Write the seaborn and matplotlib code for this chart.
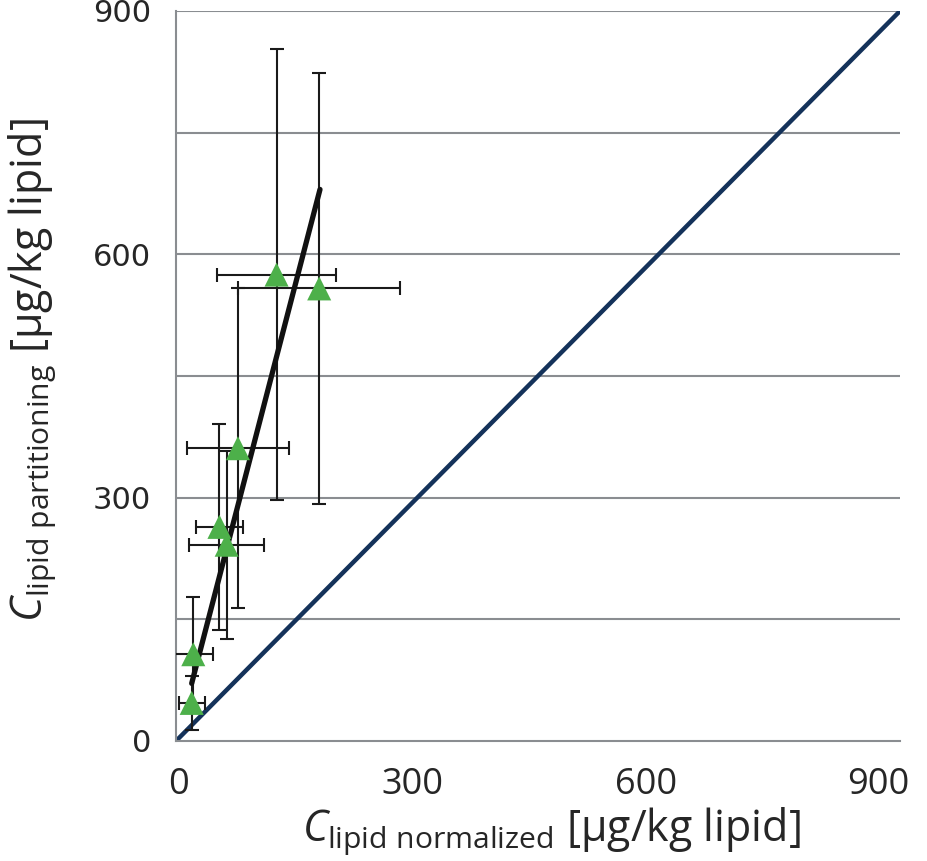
import numpy as np
import pandas as pd
import matplotlib
matplotlib.use("Agg")
import matplotlib.pyplot as plt
import matplotlib.transforms as mtransforms
import seaborn as sns

# Values
c_normalized = [19.5, 21.5, 54, 63, 77, 125, 178]
c_partitioning = [47, 107, 264, 242, 361, 575, 558]
x_err = [16, 24, 29, 47, 63, 74, 101]
y_err = [33, 71, 127, 116, 197, 278, 266]

# Fitted line end points and 1:1 line
fit_x = [19.5, 179]
fit_y = [71, 680]
one_to_one = [0, 900]

ticks = [0, 150, 300, 450, 600, 750, 900]
tick_labels = ["0", "", "300", "", "600", "", "900"]

df = pd.DataFrame({"x": c_normalized, "y": c_partitioning})

sns.set_style("white")
plt.rcParams["font.family"] = ["Open Sans", "DejaVu Sans"]
plt.rcParams["mathtext.fontset"] = "custom"
plt.rcParams["mathtext.rm"] = "Open Sans"
plt.rcParams["mathtext.it"] = "Open Sans:italic"

fig = plt.figure(figsize=(9.27, 8.61), dpi=100)
ax = fig.add_axes([176 / 927, 1 - 741 / 861, 724 / 927, 730 / 861])

# Grid lines
for t in ticks[1:]:
    ax.axhline(t, color="#8a8d91", lw=1.5, zorder=0)

ax.plot(one_to_one, one_to_one, color="#14325a", lw=3.2, zorder=2, solid_capstyle="butt")
ax.errorbar(c_normalized, c_partitioning, xerr=x_err, yerr=y_err, fmt="none",
            ecolor="#1a1a1a", elinewidth=1.5, capsize=5, capthick=1.5, zorder=3)
ax.plot(fit_x, fit_y, color="#111111", lw=3.8, zorder=4)
sns.scatterplot(data=df, x="x", y="y", marker="^", s=300, color="#4db04a",
                edgecolor="none", zorder=5, ax=ax)

ax.set_xlim(0, 900)
ax.set_ylim(0, 900)
ax.set_xticks(ticks)
ax.set_xticklabels(tick_labels, fontsize=26, family="Open Sans")
ax.set_yticks(ticks)
ax.set_yticklabels(tick_labels, fontsize=22, family="DejaVu Sans")
ax.tick_params(axis="both", length=8, width=1.5, color="#8a8d91", direction="out")
ax.tick_params(axis="x", pad=11)
ax.tick_params(axis="y", pad=10)

# x tick labels sit slightly left of their ticks in the reference
shifts = {"0": 2, "300": -5, "600": -13, "900": -22}
for lab in ax.get_xticklabels():
    dx = shifts.get(lab.get_text(), 0)
    lab.set_transform(lab.get_transform() +
                      mtransforms.ScaledTranslation(dx / 100, 0, fig.dpi_scale_trans))

for side in ["top", "right"]:
    ax.spines[side].set_visible(False)
for side in ["left", "bottom"]:
    ax.spines[side].set_color("#8a8d91")
    ax.spines[side].set_linewidth(1.5)

ax.set_xlabel(r"$\mathit{C}_{\mathrm{lipid\ normalized}}$ [µg/kg lipid]", fontsize=31)
ax.xaxis.set_label_coords(0.518, -0.088)
ax.set_ylabel(r"$\mathit{C}_{\mathrm{lipid\ partitioning}}$ [µg/kg lipid]", fontsize=31)
ax.yaxis.set_label_coords(-0.163, 0.508)

fig.savefig("out.png", dpi=100)
